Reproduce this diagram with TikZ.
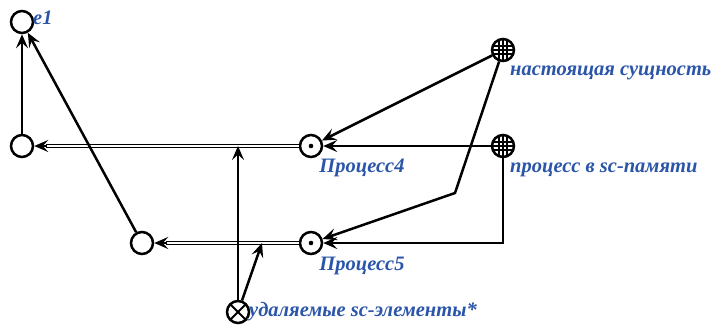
\documentclass[tikz,border=0pt]{standalone}
\usepackage{fontspec}
\setmainfont{Liberation Serif}
\usetikzlibrary{arrows.meta,calc}
\definecolor{lbl}{HTML}{2B55A8}
\begin{document}
\begin{tikzpicture}[x=1pt,y=-1pt,
  el/.style={circle,draw,line width=2.5pt,minimum size=22pt,inner sep=0pt},
  dotnode/.style={el,path picture={\fill (path picture bounding box.center) circle (2.3pt);}},
  gridnode/.style={el,path picture={
     \foreach \d in {-4,0,4}{
       \draw[line width=1.4pt] ([xshift=\d pt]path picture bounding box.north) -- ([xshift=\d pt]path picture bounding box.south);
       \draw[line width=1.4pt] ([yshift=\d pt]path picture bounding box.west) -- ([yshift=\d pt]path picture bounding box.east);}}},
  crossnode/.style={el,path picture={
     \draw[line width=2pt] (path picture bounding box.south west) -- (path picture bounding box.north east);
     \draw[line width=2pt] (path picture bounding box.north west) -- (path picture bounding box.south east);}},
  lab/.style={font=\bfseries\itshape\fontsize{20.5}{22}\selectfont,text=lbl,inner sep=0pt},
  arr/.style={line width=2.5pt,-{Stealth[length=14pt,width=12pt,inset=5.5pt]}},
  dbl/.style={double,double distance=2.2pt,line width=1.2pt}
]
\useasboundingbox (0,0) rectangle (715,327);
\node[el] (e1) at (22,22) {};
\node[el] (a) at (22,146) {};
\node[el] (b) at (142,243) {};
\node[dotnode] (p4) at (311,146) {};
\node[dotnode] (p5) at (311,243) {};
\node[gridnode] (ns) at (503,50) {};
\node[gridnode] (ps) at (503,146) {};
\node[crossnode] (del) at (238,312) {};

\node[lab,anchor=west] (le1) at (33,18) {e1};
\node[lab,anchor=west] (lns) at (510,73) {настоящая сущность};
\node[lab,anchor=west] (lps) at (510,170) {процесс в sc-памяти};
\node[lab] (lp4) at (362,168) {Процесс4};
\node[lab] (lp5) at (362,266) {Процесс5};
\node[lab,anchor=west] (ldel) at (249,312) {удаляемые sc-элементы*};

\coordinate (m1) at (238,146);
\coordinate (m2) at (262,243);
\coordinate (bend) at (455,193);

% double edges
\draw[dbl] (p4.west) -- ($(a.east)+(12pt,0)$);
\draw[arr] ($(a.east)+(13pt,0)$) -- (a.east);
\draw[dbl] (p5.west) -- ($(b.east)+(12pt,0)$);
\draw[arr] ($(b.east)+(13pt,0)$) -- (b.east);

\draw[arr] (a) -- (e1);
\draw[arr] (b) -- (e1);
\draw[arr] (del) -- (m1);
\draw[arr] (del) -- (m2);
\draw[arr] (ns) -- (p4);
\draw[arr] (ps) -- (p4);
\draw[arr] (ns) -- (bend) -- (p5);
\draw[arr] (ps) |- (p5);
\end{tikzpicture}
\end{document}
